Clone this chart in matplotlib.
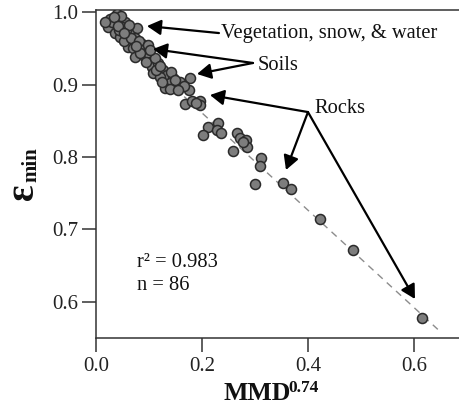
import matplotlib
matplotlib.use("Agg")
import matplotlib.pyplot as plt
import numpy as np

# ---- data ----
mmd_074 = [
    0.0264, 0.0396, 0.0415, 0.0547, 0.0321, 0.0226, 0.0491, 0.0358, 0.0453, 0.0585,
    0.0679, 0.0774, 0.0736, 0.0642, 0.0604, 0.0698, 0.0792, 0.0887, 0.0528, 0.0736,
    0.0925, 0.0981, 0.1019, 0.1057, 0.1170, 0.1264, 0.1075, 0.1340, 0.1208, 0.1453,
    0.1396, 0.1528, 0.1302, 0.1585, 0.1774, 0.1755, 0.0868, 0.0434, 0.0566, 0.0830,
    0.1132, 0.0943, 0.0302, 0.0472,
    0.1679, 0.1811, 0.1962, 0.1962, 0.1887, 0.2113, 0.2302, 0.2283, 0.2358, 0.2019,
    0.2660, 0.2717, 0.2830, 0.2849, 0.2585, 0.2774, 0.3113, 0.3094, 0.3000, 0.3528,
    0.3679, 0.4226, 0.4849, 0.6151,
    0.0170, 0.0340, 0.0623, 0.0660, 0.0811, 0.0981, 0.1113, 0.1208, 0.1415, 0.1491,
    0.1660, 0.1396, 0.0415, 0.0528, 0.0755, 0.1019, 0.1245, 0.1547,
]
eps_min = [
    0.9903, 0.9972, 0.9890, 0.9862, 0.9779, 0.9793, 0.9793, 0.9710, 0.9655, 0.9683,
    0.9710, 0.9779, 0.9641, 0.9586, 0.9517, 0.9503, 0.9517, 0.9476, 0.9600, 0.9379,
    0.9379, 0.9434, 0.9310, 0.9241, 0.9297, 0.9200, 0.9159, 0.9131, 0.9103, 0.9090,
    0.9021, 0.8993, 0.8952, 0.9034, 0.9090, 0.8924, 0.9559, 0.9752, 0.9752, 0.9434,
    0.9200, 0.9310, 0.9862, 0.9945,
    0.8731, 0.8772, 0.8772, 0.8717, 0.8745, 0.8414, 0.8469, 0.8372, 0.8331, 0.8303,
    0.8331, 0.8262, 0.8234, 0.8138, 0.8083, 0.8207, 0.7986, 0.7876, 0.7628, 0.7641,
    0.7559, 0.7145, 0.6717, 0.5779,
    0.9862, 0.9931, 0.9821, 0.9641, 0.9600, 0.9545, 0.9366, 0.9255, 0.9172, 0.9062,
    0.8979, 0.8938, 0.9807, 0.9710, 0.9531, 0.9476, 0.9034, 0.8924,
]
fit_intercept = 0.995
fit_slope = -0.671
fit_x_range = [0.01, 0.645]

x_ticks = [0.0, 0.2, 0.4, 0.6]
x_ticklabels = ["0.0", "0.2", "0.4", "0.6"]
y_ticks = [0.6, 0.7, 0.8, 0.9, 1.0]
y_ticklabels = ["0.6", "0.7", "0.8", "0.9", "1.0"]

r2_text = "r\u00b2 = 0.983"
n_text = "n = 86"

# ---- styling ----
plt.rcParams["font.family"] = ["Liberation Serif", "DejaVu Serif"]

fig = plt.figure(figsize=(4.59, 4.08), dpi=100)
ax = fig.add_axes([96 / 459, 70 / 408, 363 / 459, 328 / 408])

spine_col = "#333333"
for s in ["left", "bottom", "top"]:
    ax.spines[s].set_color(spine_col)
    ax.spines[s].set_linewidth(1.1)
ax.spines["right"].set_visible(False)

ax.set_xlim(0, 0.685)
ax.set_ylim(0.5503, 1.0028)

# regression line
fx = np.array(fit_x_range)
ax.plot(fx, fit_intercept + fit_slope * fx, linestyle=(0, (5, 4)),
        color="#8c8c8c", linewidth=1.0, zorder=1)

ax.scatter(mmd_074, eps_min, s=52, facecolor="#7d7d7d", edgecolor="#2a2a2a",
           linewidth=1.1, zorder=3)

ax.set_xticks(x_ticks)
ax.set_xticklabels(x_ticklabels)
ax.set_yticks(y_ticks)
ax.set_yticklabels(y_ticklabels)
ax.tick_params(axis="both", direction="out", length=10, width=1.1,
               color=spine_col, labelsize=15, labelcolor="#222222")
ax.tick_params(axis="x", pad=4, top=False)
ax.tick_params(axis="y", pad=3, right=False)

# axis labels
fig.text(257 / 459, 1 - 394 / 408, "MMD", ha="center", va="center",
         fontsize=18.5, fontweight="bold", color="#111111")
fig.text(288 / 459, 1 - 388 / 408, "0.74", ha="left", va="center",
         fontsize=12.5, fontweight="bold", color="#111111")
fig.text(23 / 459, 1 - 192 / 408, "\u03b5", ha="center", va="center",
         rotation=90, fontsize=28, fontweight="bold", color="#111111")
fig.text(31 / 459, 1 - 165 / 408, "min", ha="center", va="center",
         rotation=90, fontsize=15, fontweight="bold", color="#111111")

# annotations
arrow_kw = dict(arrowstyle="-|>,head_length=0.4,head_width=0.22",
                mutation_scale=21, lw=1.6, color="black",
                shrinkA=0, shrinkB=0)
txt_kw = dict(fontsize=14.8, color="#111111", va="baseline", ha="left")

ax.text(0.236, 0.9641, "Vegetation, snow, & water", **txt_kw)
ax.annotate("", xy=(0.0962, 0.9807), xytext=(0.232, 0.971), arrowprops=arrow_kw)

ax.text(0.3057, 0.9200, "Soils", **txt_kw)
for tip in [(0.1075, 0.9490), (0.1906, 0.9145)]:
    ax.annotate("", xy=tip, xytext=(0.2962, 0.9297), arrowprops=arrow_kw)

ax.text(0.413, 0.8607, "Rocks", **txt_kw)
for tip in [(0.2151, 0.8855), (0.3585, 0.7821), (0.6019, 0.6041)]:
    ax.annotate("", xy=tip, xytext=(0.400, 0.862), arrowprops=arrow_kw)

ax.text(0.0774, 0.6483, r2_text, **txt_kw)
ax.text(0.0774, 0.6166, n_text, **txt_kw)

fig.savefig("out.png", dpi=100)
